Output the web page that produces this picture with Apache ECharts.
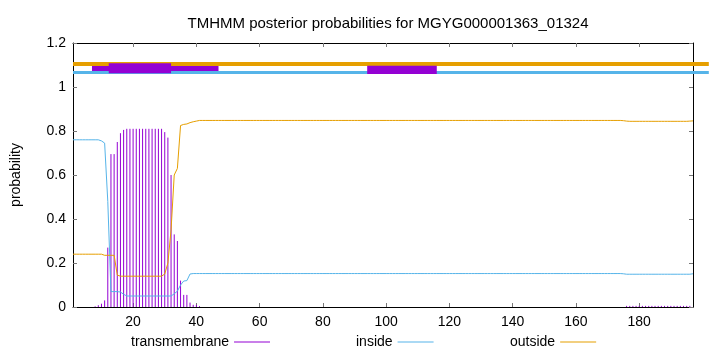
<!DOCTYPE html>
<html>
<head>
<meta charset="utf-8">
<script src="https://cdn.jsdelivr.net/npm/echarts@6/dist/echarts.min.js"></script>
<style>
html,body{margin:0;padding:0;background:#fff;}
#chart{width:720px;height:352px;}
</style>
</head>
<body>
<div id="chart"></div>
<script>
// ---- data (residue 1..197) ----
const titleText = 'TMHMM posterior probabilities for MGYG000001363_01324';
const xTickValues = [20, 40, 60, 80, 100, 120, 140, 160, 180];
const yTickValues = [0, 0.2, 0.4, 0.6, 0.8, 1, 1.2];
const yTickLabels = ['0', '0.2', '0.4', '0.6', '0.8', '1', '1.2'];

const transmembrane = [
  0, 0, 0, 0, 0, 0, 0, 0.003, 0.008, 0.015,
  0.03, 0.27, 0.695, 0.695, 0.75, 0.79, 0.805, 0.81, 0.81, 0.81,
  0.81, 0.81, 0.81, 0.81, 0.81, 0.81, 0.81, 0.81, 0.81, 0.795,
  0.77, 0.6, 0.33, 0.3, 0.12, 0.055, 0.055, 0.02, 0.01, 0.01,
  0.004, 0, 0, 0, 0, 0, 0, 0, 0, 0,
  0, 0, 0, 0, 0, 0, 0, 0, 0, 0,
  0, 0, 0, 0, 0, 0, 0, 0, 0, 0,
  0, 0, 0, 0, 0, 0, 0, 0, 0, 0,
  0, 0, 0, 0, 0, 0, 0, 0, 0, 0,
  0, 0, 0, 0, 0, 0, 0, 0, 0, 0,
  0, 0, 0, 0, 0, 0, 0, 0, 0, 0,
  0, 0, 0, 0, 0, 0, 0, 0, 0, 0,
  0, 0, 0, 0, 0, 0, 0, 0, 0, 0,
  0, 0, 0, 0, 0, 0, 0, 0, 0, 0,
  0, 0, 0, 0, 0, 0, 0, 0, 0, 0,
  0, 0, 0, 0, 0, 0, 0, 0, 0, 0,
  0, 0, 0, 0, 0, 0, 0, 0, 0, 0,
  0, 0, 0, 0, 0, 0.005, 0.005, 0.005, 0.005, 0.005,
  0.005, 0.005, 0.005, 0.005, 0.005, 0.005, 0.005, 0.005, 0.005, 0.005,
  0.005, 0.005, 0.005, 0.005, 0.005, 0.005, 0
];

const inside = [
  0.76, 0.76, 0.76, 0.76, 0.76, 0.76, 0.76, 0.76, 0.76, 0.755,
  0.745, 0.48, 0.07, 0.07, 0.07, 0.068, 0.058, 0.05, 0.05, 0.05,
  0.05, 0.05, 0.05, 0.05, 0.05, 0.05, 0.05, 0.05, 0.05, 0.05,
  0.05, 0.05, 0.06, 0.072, 0.1, 0.118, 0.12, 0.15, 0.152, 0.152,
  0.152, 0.152, 0.152, 0.152, 0.152, 0.152, 0.152, 0.152, 0.152, 0.152,
  0.152, 0.152, 0.152, 0.152, 0.152, 0.152, 0.152, 0.152, 0.152, 0.152,
  0.152, 0.152, 0.152, 0.152, 0.152, 0.152, 0.152, 0.152, 0.152, 0.152,
  0.152, 0.152, 0.152, 0.152, 0.152, 0.152, 0.152, 0.152, 0.152, 0.152,
  0.152, 0.152, 0.152, 0.152, 0.152, 0.152, 0.152, 0.152, 0.152, 0.152,
  0.152, 0.152, 0.152, 0.152, 0.152, 0.152, 0.152, 0.152, 0.152, 0.152,
  0.152, 0.152, 0.152, 0.152, 0.152, 0.152, 0.152, 0.152, 0.152, 0.152,
  0.152, 0.152, 0.152, 0.152, 0.152, 0.152, 0.152, 0.152, 0.152, 0.152,
  0.152, 0.152, 0.152, 0.152, 0.152, 0.152, 0.152, 0.152, 0.152, 0.152,
  0.152, 0.152, 0.152, 0.152, 0.152, 0.152, 0.152, 0.152, 0.152, 0.152,
  0.152, 0.152, 0.152, 0.152, 0.152, 0.152, 0.152, 0.152, 0.152, 0.152,
  0.152, 0.152, 0.152, 0.152, 0.152, 0.152, 0.152, 0.152, 0.152, 0.152,
  0.152, 0.152, 0.152, 0.152, 0.152, 0.152, 0.152, 0.152, 0.152, 0.152,
  0.152, 0.152, 0.152, 0.152, 0.151, 0.149, 0.149, 0.149, 0.149, 0.149,
  0.149, 0.149, 0.149, 0.149, 0.149, 0.149, 0.149, 0.149, 0.149, 0.149,
  0.149, 0.149, 0.149, 0.149, 0.149, 0.149, 0.151
];

const outside = [
  0.24, 0.24, 0.24, 0.24, 0.24, 0.24, 0.24, 0.24, 0.24, 0.24,
  0.235, 0.235, 0.235, 0.235, 0.145, 0.14, 0.14, 0.14, 0.14, 0.14,
  0.14, 0.14, 0.14, 0.14, 0.14, 0.14, 0.14, 0.14, 0.14, 0.15,
  0.2, 0.35, 0.6, 0.63, 0.825, 0.83, 0.832, 0.838, 0.842, 0.845,
  0.848, 0.848, 0.848, 0.848, 0.848, 0.848, 0.848, 0.848, 0.848, 0.848,
  0.848, 0.848, 0.848, 0.848, 0.848, 0.848, 0.848, 0.848, 0.848, 0.848,
  0.848, 0.848, 0.848, 0.848, 0.848, 0.848, 0.848, 0.848, 0.848, 0.848,
  0.848, 0.848, 0.848, 0.848, 0.848, 0.848, 0.848, 0.848, 0.848, 0.848,
  0.848, 0.848, 0.848, 0.848, 0.848, 0.848, 0.848, 0.848, 0.848, 0.848,
  0.848, 0.848, 0.848, 0.848, 0.848, 0.848, 0.848, 0.848, 0.848, 0.848,
  0.848, 0.848, 0.848, 0.848, 0.848, 0.848, 0.848, 0.848, 0.848, 0.848,
  0.848, 0.848, 0.848, 0.848, 0.848, 0.848, 0.848, 0.848, 0.848, 0.848,
  0.848, 0.848, 0.848, 0.848, 0.848, 0.848, 0.848, 0.848, 0.848, 0.848,
  0.848, 0.848, 0.848, 0.848, 0.848, 0.848, 0.848, 0.848, 0.848, 0.848,
  0.848, 0.848, 0.848, 0.848, 0.848, 0.848, 0.848, 0.848, 0.848, 0.848,
  0.848, 0.848, 0.848, 0.848, 0.848, 0.848, 0.848, 0.848, 0.848, 0.848,
  0.848, 0.848, 0.848, 0.848, 0.848, 0.848, 0.848, 0.848, 0.848, 0.848,
  0.848, 0.848, 0.848, 0.848, 0.847, 0.845, 0.844, 0.844, 0.844, 0.844,
  0.844, 0.844, 0.844, 0.844, 0.844, 0.844, 0.844, 0.844, 0.844, 0.844,
  0.844, 0.844, 0.844, 0.844, 0.844, 0.845, 0.846
];

// predicted topology track drawn above the curves: [from, to, level]
const outsideTrack = [1, 202, 1.105];
const insideTrack = [1, 202, 1.066];
const tmBoxFrom = [7, 12.3, 94];
const tmBoxTo = [47, 32, 116];
const tmBoxHigh = [1.095, 1.108, 1.097];
const tmBoxLow = [1.073, 1.062, 1.059];

// ---- build chart ----
const FONT = 'Liberation Sans, Arial, sans-serif';
const C_TM = '#9400d3', C_IN = '#56b4e9', C_OUT = '#e69f00';
const pairs = arr => arr.map((v, i) => [i + 1, v]);

const chart = echarts.init(document.getElementById('chart'), null, {renderer: 'canvas'});

function trackItem(color, width) {
  return function (params, api) {
    const a = api.coord([api.value(0), api.value(2)]);
    const b = api.coord([api.value(1), api.value(2)]);
    return {type: 'line', shape: {x1: a[0], y1: a[1], x2: b[0], y2: b[1]},
            style: {stroke: color, lineWidth: width}};
  };
}

const boxData = tmBoxFrom.map((f, i) => [f, tmBoxTo[i], tmBoxHigh[i], tmBoxLow[i]]);

const axisCommon = {
  axisLine: {show: true, onZero: false, lineStyle: {color: '#000', width: 1}},
  splitLine: {show: false},
};
const legendText = {fontFamily: FONT, fontSize: 14, color: '#000'};

chart.setOption({
  animation: false,
  backgroundColor: '#fff',
  title: {
    text: titleText, left: 383, top: 11, textAlign: 'center',
    textStyle: {fontFamily: FONT, fontSize: 15, fontWeight: 'normal', color: '#000'}
  },
  grid: {left: 73, right: 27, top: 43, bottom: 45, containLabel: false},
  legend: [
    {data: [{name: 'transmembrane', icon: 'rect'}], left: 126, top: 330, align: 'right',
     itemWidth: 36, itemHeight: 1, textStyle: legendText, selectedMode: false},
    {data: [{name: 'inside', icon: 'rect'}], left: 351, top: 330, align: 'right',
     itemWidth: 36, itemHeight: 1, textStyle: legendText, selectedMode: false},
    {data: [{name: 'outside', icon: 'rect'}], left: 505, top: 330, align: 'right',
     itemWidth: 36, itemHeight: 1, textStyle: legendText, selectedMode: false}
  ],
  xAxis: [
    Object.assign({}, axisCommon, {
      type: 'value', position: 'bottom', min: 1, max: 197,
      axisTick: {show: true, inside: true, length: 4, customValues: xTickValues, lineStyle: {color: '#777'}},
      axisLabel: {show: true, customValues: xTickValues, margin: 8, fontFamily: FONT, fontSize: 14, color: '#000'}
    }),
    Object.assign({}, axisCommon, {
      type: 'value', position: 'top', min: 1, max: 197,
      axisTick: {show: true, inside: true, length: 4, customValues: xTickValues, lineStyle: {color: '#777'}},
      axisLabel: {show: false}
    })
  ],
  yAxis: [
    Object.assign({}, axisCommon, {
      type: 'value', position: 'left', min: 0, max: 1.2,
      name: 'probability', nameLocation: 'middle', nameRotate: 90, nameGap: 50,
      nameTextStyle: {fontFamily: FONT, fontSize: 14, color: '#000'},
      axisTick: {show: true, inside: true, length: 4, customValues: yTickValues, lineStyle: {color: '#777'}},
      axisLabel: {show: true, customValues: yTickValues, margin: 7, fontFamily: FONT, fontSize: 14, color: '#000',
        formatter: v => yTickLabels[yTickValues.findIndex(t => Math.abs(t - v) < 1e-9)]}
    }),
    Object.assign({}, axisCommon, {
      type: 'value', position: 'right', min: 0, max: 1.2,
      axisTick: {show: true, inside: true, length: 4, customValues: yTickValues, lineStyle: {color: '#777'}},
      axisLabel: {show: false}
    })
  ],
  series: [
    {
      name: 'transmembrane', type: 'custom', xAxisIndex: 0, yAxisIndex: 0,
      itemStyle: {color: C_TM},
      data: pairs(transmembrane),
      renderItem: function (params, api) {
        const x = api.value(0), v = api.value(1);
        const a = api.coord([x, 0]), b = api.coord([x, v]);
        return {type: 'line', shape: {x1: a[0], y1: a[1], x2: b[0], y2: b[1]},
                style: {stroke: C_TM, lineWidth: 1}};
      }
    },
    {
      name: 'inside', type: 'line', xAxisIndex: 0, yAxisIndex: 0,
      data: pairs(inside), showSymbol: false, symbol: 'none',
      lineStyle: {color: C_IN, width: 1}, itemStyle: {color: C_IN}
    },
    {
      name: 'outside', type: 'line', xAxisIndex: 0, yAxisIndex: 0,
      data: pairs(outside), showSymbol: false, symbol: 'none',
      lineStyle: {color: C_OUT, width: 1}, itemStyle: {color: C_OUT}
    },
    {
      name: 'outsideTrack', type: 'custom', clip: false, z: 3,
      data: [outsideTrack], renderItem: trackItem(C_OUT, 4)
    },
    {
      name: 'insideTrack', type: 'custom', clip: false, z: 3,
      data: [insideTrack], renderItem: trackItem(C_IN, 3)
    },
    {
      name: 'tmBoxes', type: 'custom', clip: false, z: 4,
      data: boxData,
      renderItem: function (params, api) {
        const a = api.coord([api.value(0), api.value(2)]);
        const b = api.coord([api.value(1), api.value(3)]);
        return {type: 'rect', shape: {x: a[0], y: a[1], width: b[0] - a[0], height: b[1] - a[1]},
                style: {fill: C_TM}};
      }
    }
  ]
});
</script>
</body>
</html>
